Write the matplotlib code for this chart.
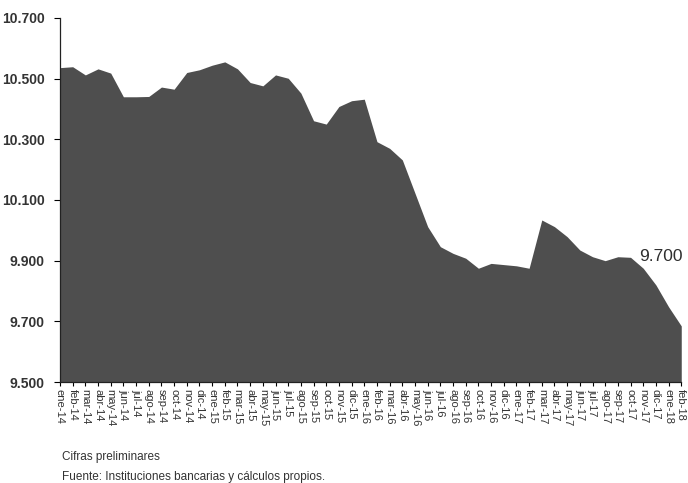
import matplotlib.pyplot as plt
import numpy as np

plt.rcParams['font.family'] = ['Liberation Sans', 'DejaVu Sans']

meses = ['ene', 'feb', 'mar', 'abr', 'may', 'jun', 'jul', 'ago', 'sep', 'oct', 'nov', 'dic']
etiquetas = [m + '-' + str(a) for a in (14, 15, 16, 17) for m in meses] + ['ene-18', 'feb-18']

# saldo
valores = [10.536, 10.539, 10.512, 10.532, 10.518, 10.440, 10.440, 10.441, 10.472, 10.465,
           10.520, 10.529, 10.544, 10.555, 10.532, 10.487, 10.476, 10.512, 10.501, 10.452,
           10.361, 10.350, 10.408, 10.427, 10.432, 10.292, 10.270, 10.232, 10.122, 10.012,
           9.946, 9.924, 9.908, 9.875, 9.891, 9.887, 9.883, 9.875, 10.034, 10.012,
           9.979, 9.935, 9.913, 9.900, 9.913, 9.911, 9.875, 9.820, 9.748, 9.685]

yticks = [9.5, 9.7, 9.9, 10.1, 10.3, 10.5, 10.7]
ylabels = ['9.500', '9.700', '9.900', '10.100', '10.300', '10.500', '10.700']

x = np.arange(len(valores))

fig = plt.figure(figsize=(6.88, 4.83), dpi=100)
ax = fig.add_axes([0.0872, 0.209, 0.903, 0.754])
ax.fill_between(x, valores, 9.5, color='#4e4e4e', lw=0)

ax.set_xlim(0, len(valores) - 1)
ax.set_ylim(9.5, 10.7)
ax.set_yticks(yticks)
ax.set_yticklabels(ylabels, fontsize=10, fontweight='bold', color='#333333')
ax.set_xticks(x)
ax.set_xticklabels(etiquetas, rotation=-90, fontsize=8, color='#333333')
ax.tick_params(axis='x', length=3, width=0.8, pad=2)
ax.tick_params(axis='y', length=4, width=0.8, pad=7)

for s in ['top', 'right']:
    ax.spines[s].set_visible(False)
for s in ['left', 'bottom']:
    ax.spines[s].set_linewidth(0.9)
    ax.spines[s].set_color('#222222')

ax.text(45.7, 9.915, '9.700', fontsize=12.5, color='#2e2e2e', va='center', ha='left')

fig.text(0.09, 0.053, 'Cifras preliminares', fontsize=8.5, color='#333333', va='center')
fig.text(0.09, 0.012, 'Fuente: Instituciones bancarias y cálculos propios.', fontsize=8.5,
         color='#333333', va='center')

fig.savefig('out.png', dpi=100)
